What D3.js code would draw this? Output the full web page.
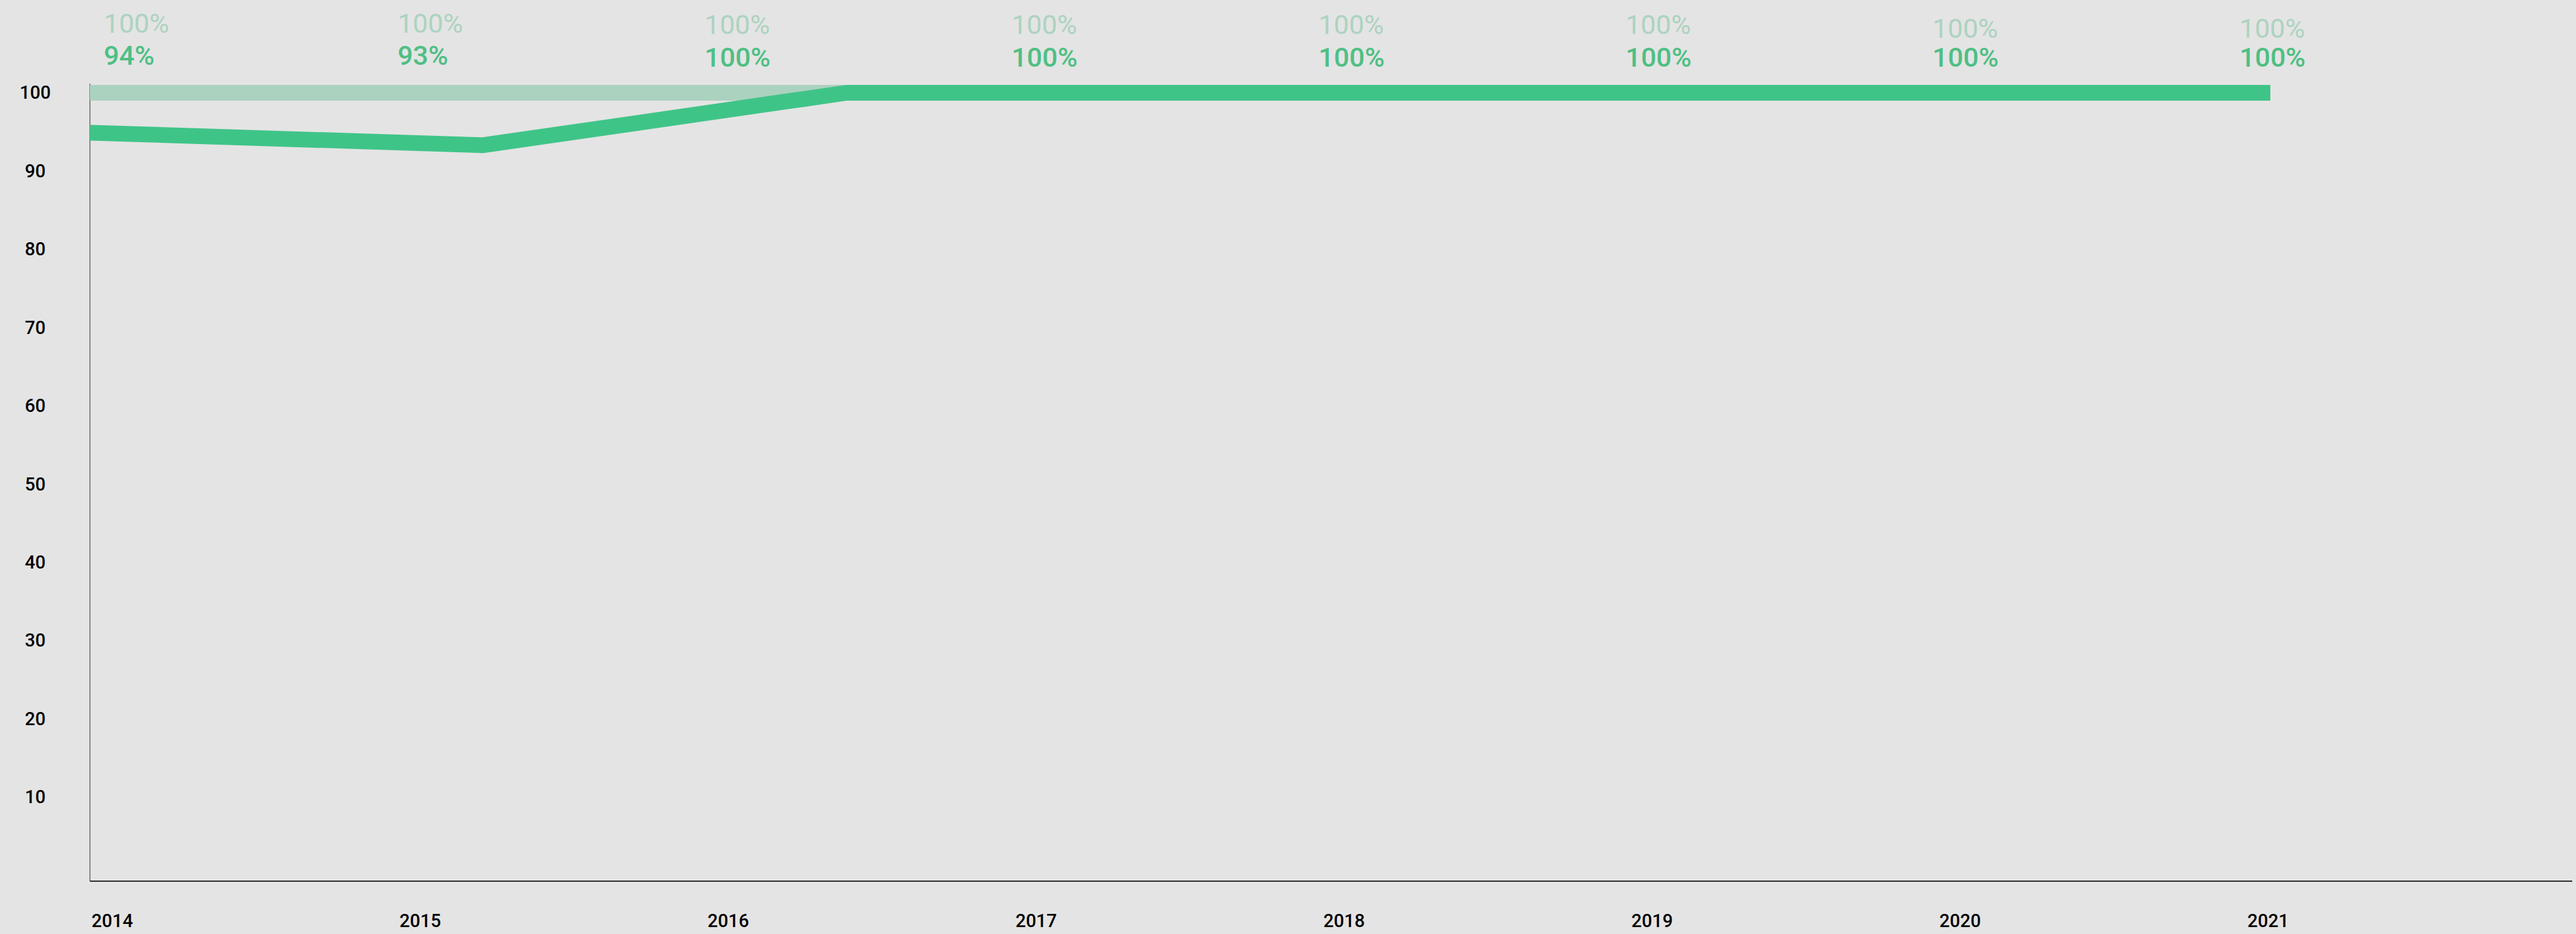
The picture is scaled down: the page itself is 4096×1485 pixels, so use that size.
<!DOCTYPE html>
<html lang="en">
<head>
    <meta charset="UTF-8">
    <title>Completion rate 2014-2021</title>
    <script src="https://cdnjs.cloudflare.com/ajax/libs/d3/7.8.5/d3.min.js"></script>
    <style>
      body {
        margin: 0;
        background-color: #e4e4e4;
        font-family: Roboto, "Noto Sans", sans-serif;
        overflow: hidden;
      }
    </style>
</head>
<body>
    <div id="chart"></div>

    <script>
        // data
        const years = [2014, 2015, 2016, 2017, 2018, 2019, 2020, 2021];
        const targetValues = [100, 100, 100, 100, 100, 100, 100, 100];
        const actualValues = [94, 93, 100, 100, 100, 100, 100, 100];
        // the green line's own points (x in fractional years, y in percent)
        const lineYears = [2014, 2015.26, 2016.43, 2017, 2018, 2019, 2020, 2021];
        const lineValues = [94.9, 93.3, 100, 100, 100, 100, 100, 100];
        const yTicks = [10, 20, 30, 40, 50, 60, 70, 80, 90, 100];

        const width = 4096;
        const height = 1485;
        const axisX = 143;
        const axisBottomY = 1401;

        // the value labels sit a little lower towards the right in the original
        const targetLabelY = [52, 52, 54, 54, 54, 54, 60, 60];
        const actualLabelY = [103, 103, 105.5, 105.5, 105.5, 105.5, 105.5, 105.5];

        const svg = d3.select('#chart')
            .append('svg')
            .attr('width', width)
            .attr('height', height);

        svg.append('rect')
            .attr('width', width)
            .attr('height', height)
            .attr('fill', '#e4e4e4');

        const x = d3.scaleLinear().domain([2014, 2021]).range([axisX, 3610]);
        const y = d3.scaleLinear().domain([0, 100]).range([1392, 147.5]);
        const xLabel = d3.scalePoint().domain(years).range([145, 3573]);
        const xValue = d3.scalePoint().domain(years).range([144, 3561]);

        // y axis line
        svg.append('line')
            .attr('x1', axisX).attr('x2', axisX)
            .attr('y1', 133).attr('y2', axisBottomY)
            .attr('stroke', '#6b6b6b')
            .attr('stroke-width', 1.5);

        // y tick labels
        const yAxis = svg.append('g')
            .attr('transform', `translate(${axisX},0)`)
            .call(d3.axisLeft(y).tickValues(yTicks).tickSize(0));
        yAxis.select('.domain').remove();
        yAxis.selectAll('text')
            .attr('x', -87)
            .attr('text-anchor', 'middle')
            .attr('fill', '#000')
            .style('font-family', 'Roboto, sans-serif')
            .style('font-size', '29px')
            .style('font-weight', 500);

        const line = d3.line()
            .x(d => x(d[0]))
            .y(d => y(d[1]));

        // target line (light)
        svg.append('path')
            .datum(years.map((yr, i) => [yr, targetValues[i]]))
            .attr('d', line)
            .attr('fill', 'none')
            .attr('stroke', '#abd1bf')
            .attr('stroke-width', 25);

        // actual line (green)
        svg.append('path')
            .datum(lineYears.map((yr, i) => [yr, lineValues[i]]))
            .attr('d', line)
            .attr('fill', 'none')
            .attr('stroke', '#3fc488')
            .attr('stroke-width', 25)
            .attr('stroke-linejoin', 'miter');

        // x axis line
        svg.append('line')
            .attr('x1', axisX).attr('x2', 4090)
            .attr('y1', axisBottomY).attr('y2', axisBottomY)
            .attr('stroke', '#2a2a2a')
            .attr('stroke-width', 2);

        // x tick labels
        const xAxis = svg.append('g')
            .attr('transform', `translate(0,${axisBottomY})`)
            .call(d3.axisBottom(xLabel).tickSize(0).tickFormat(d3.format('d')));
        xAxis.select('.domain').remove();
        xAxis.selectAll('text')
            .attr('y', 73)
            .attr('dy', 0)
            .attr('text-anchor', 'start')
            .attr('fill', '#000')
            .style('font-family', 'Roboto, sans-serif')
            .style('font-size', '29px')
            .style('font-weight', 500);

        // value labels above the chart, kept clear of the y axis
        const labelX = d => Math.max(xValue(d), axisX + 22);

        svg.selectAll('.target-label')
            .data(years)
            .join('text')
            .attr('class', 'target-label')
            .attr('x', d => labelX(d))
            .attr('y', (d, i) => targetLabelY[i])
            .attr('fill', '#acd3c0')
            .style('font-size', '43px')
            .style('font-weight', 400)
            .text((d, i) => targetValues[i] + '%');

        svg.selectAll('.actual-label')
            .data(years)
            .join('text')
            .attr('class', 'actual-label')
            .attr('x', d => labelX(d))
            .attr('y', (d, i) => actualLabelY[i])
            .attr('fill', '#4fbf84')
            .style('font-size', '43px')
            .style('font-weight', 500)
            .text((d, i) => actualValues[i] + '%');
    </script>
</body>
</html>
